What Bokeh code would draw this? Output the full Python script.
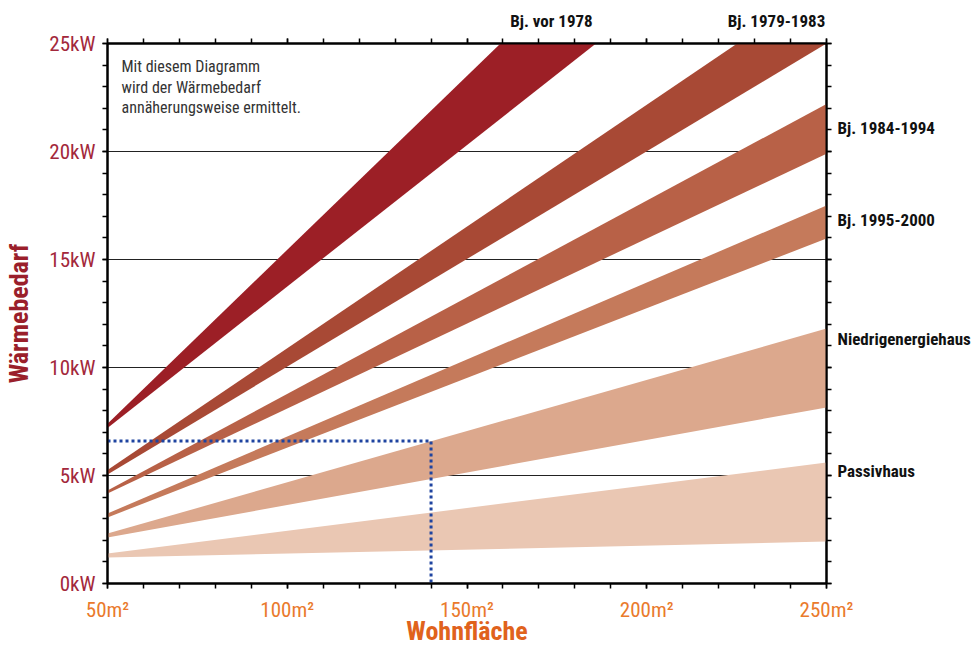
from bokeh.plotting import figure
from bokeh.models import Range1d, LinearAxis, FixedTicker, Label
from bokeh.embed import file_html
from bokeh.resources import INLINE

# ---------------- data ----------------
area = [50, 250]  # Wohnfläche m²

band_names = ["Bj. vor 1978", "Bj. 1979-1983", "Bj. 1984-1994",
              "Bj. 1995-2000", "Niedrigenergiehaus", "Passivhaus"]
band_upper = [[7.4, 39.6], [5.25, 27.8], [4.3, 22.2], [3.24, 17.5], [2.31, 11.8], [1.39, 5.6]]
band_lower = [[7.2, 33.4], [5.05, 25.0], [4.17, 19.9], [3.06, 15.97], [2.13, 8.15], [1.2, 1.94]]
band_colors = ["#9c1f26", "#a84935", "#b86147", "#c57a5b", "#dca88d", "#eac7b3"]

x_ticks = [50, 100, 150, 200, 250]
x_tick_labels = ["50m²", "100m²", "150m²", "200m²", "250m²"]
y_ticks = [0, 5, 10, 15, 20, 25]
y_tick_labels = ["0kW", "5kW", "10kW", "15kW", "20kW", "25kW"]

example_x = [50, 140, 140]
example_y = [6.6, 6.6, 0]

note_lines = ["Mit diesem Diagramm", "wird der Wärmebedarf", "annäherungsweise ermittelt."]

# where the band names sit: top ones at an area value, right ones at a kW value
top_label_x = [173.5, 236.1]
right_label_y = [21.1, 16.85, 11.3, 5.23]

FONT = "Roboto Condensed"

p = figure(width=978, height=648, output_backend="svg", toolbar_location=None,
           x_range=Range1d(50, 250), y_range=Range1d(0, 25),
           min_border_left=107, min_border_right=152, min_border_top=43, min_border_bottom=65,
           x_axis_location=None, y_axis_location=None)
p.background_fill_color = "white"
p.border_fill_color = "white"
p.outline_line_color = "black"
p.outline_line_width = 2

p.xgrid.visible = False
p.ygrid.ticker = FixedTicker(ticks=[5, 10, 15, 20])
p.ygrid.grid_line_color = "#222222"
p.ygrid.grid_line_width = 1.2

def style_axis(ax, labels_on, color=None, size="21px"):
    ax.axis_line_color = "black"
    ax.axis_line_width = 2
    ax.major_tick_line_color = "black"
    ax.minor_tick_line_color = "black"
    ax.major_tick_line_width = 1.5
    ax.minor_tick_line_width = 1.5
    ax.major_tick_out = 5
    ax.major_tick_in = 0
    ax.minor_tick_out = 5
    ax.minor_tick_in = 0
    if labels_on:
        ax.major_label_text_color = color
        ax.major_label_text_font = FONT
        ax.major_label_text_font_size = size
    else:
        ax.major_label_text_color = None

def label_axis(ticks, names, standoff):
    ax = LinearAxis(ticker=FixedTicker(ticks=ticks, minor_ticks=[]),
                    major_label_overrides=dict(zip(ticks, names)),
                    major_label_standoff=standoff)
    ax.axis_line_color = None
    ax.major_tick_line_color = None
    ax.minor_tick_line_color = None
    ax.major_tick_out = 0
    ax.major_tick_in = 0
    ax.major_label_text_color = "#111111"
    ax.major_label_text_font = FONT
    ax.major_label_text_font_style = "bold"
    ax.major_label_text_font_size = "17px"
    return ax

xt = FixedTicker(ticks=x_ticks, minor_ticks=list(range(50, 251, 10)))
yt = FixedTicker(ticks=y_ticks, minor_ticks=list(range(0, 26, 1)))

xb = LinearAxis(ticker=xt, major_label_overrides=dict(zip(x_ticks, x_tick_labels)),
                major_label_standoff=9, axis_label="Wohnfläche", axis_label_standoff=-9)
style_axis(xb, True, "#ea7a2c")
xb.axis_label_text_font = FONT
xb.axis_label_text_font_size = "26px"
xb.axis_label_text_font_style = "bold"
xb.axis_label_text_color = "#e0621c"
p.add_layout(xb, "below")

xa = LinearAxis(ticker=xt)
style_axis(xa, False)
p.add_layout(xa, "above")
p.add_layout(label_axis(top_label_x, band_names[:2], 8), "above")

yl = LinearAxis(ticker=yt, major_label_overrides=dict(zip(y_ticks, y_tick_labels)),
                major_label_standoff=7, axis_label="Wärmebedarf", axis_label_standoff=12)
style_axis(yl, True, "#a3283b")
yl.axis_label_text_font = FONT
yl.axis_label_text_font_size = "26px"
yl.axis_label_text_font_style = "bold"
yl.axis_label_text_color = "#9a1f2b"
p.add_layout(yl, "left")

yr = LinearAxis(ticker=yt)
style_axis(yr, False)
p.add_layout(yr, "right")
p.add_layout(label_axis(right_label_y, band_names[2:], 6), "right")

for up, lo, c in zip(band_upper, band_lower, band_colors):
    p.varea(x=area, y1=lo, y2=up, fill_color=c, fill_alpha=1.0)

p.line(example_x, example_y, line_color="#1f44a0", line_width=3, line_dash="3 3")

for i, line in enumerate(note_lines):
    p.add_layout(Label(x=53.9, y=23.94 - i * 0.96, text=line, text_align="left",
                       text_baseline="middle", text_font=FONT, text_font_size="16px",
                       text_color="#333333"))

open("out.html", "w").write(file_html(p, INLINE))
